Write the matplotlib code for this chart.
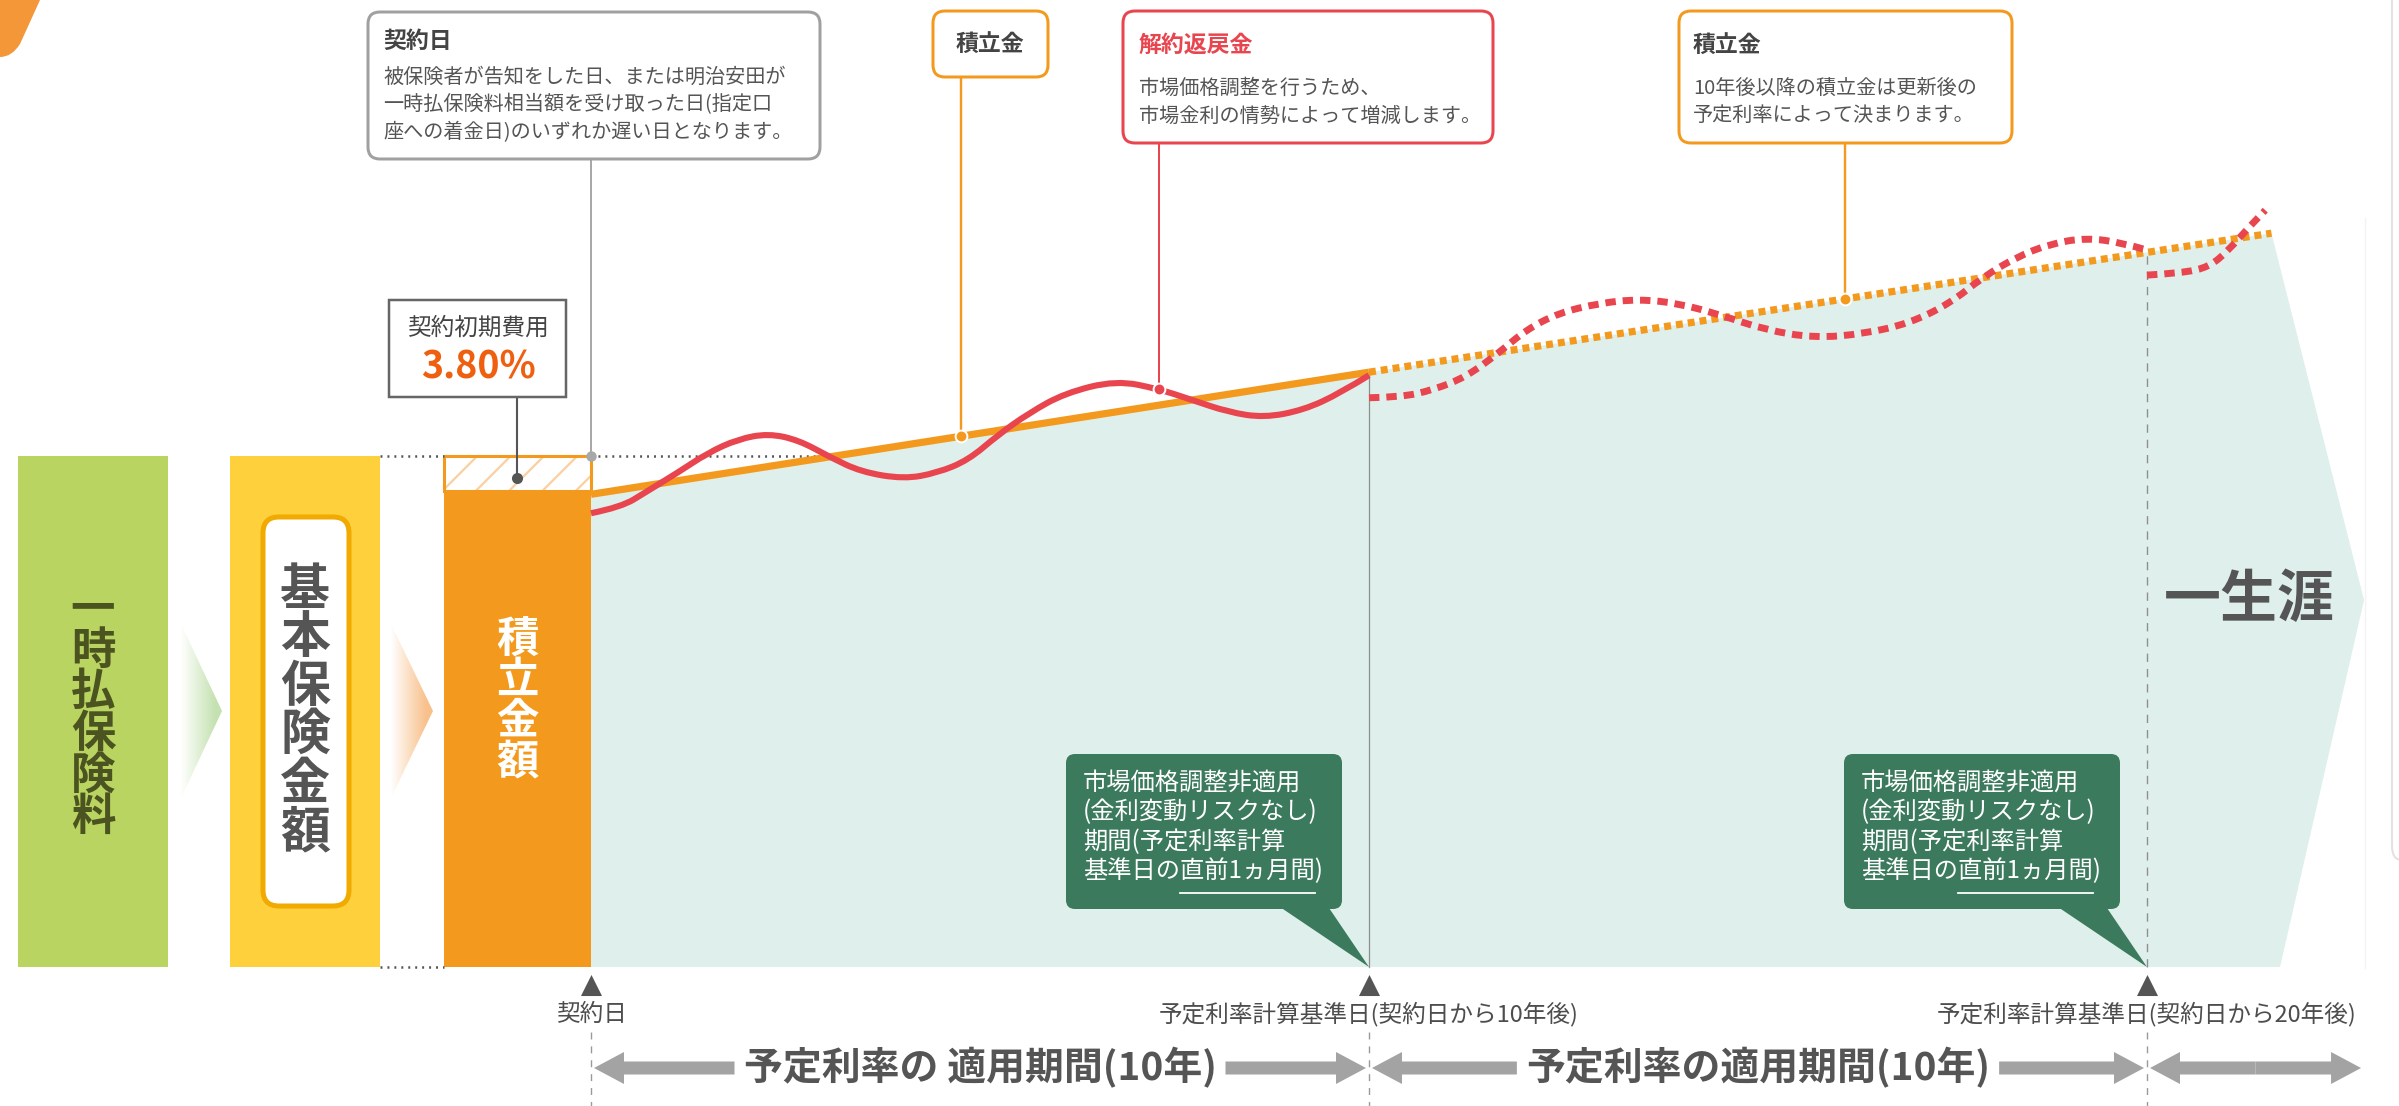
import numpy as np
import matplotlib
matplotlib.use("Agg")
import matplotlib.pyplot as plt
import matplotlib.transforms as mtransforms
from matplotlib.patches import FancyBboxPatch, Polygon, PathPatch
from matplotlib.path import Path
from matplotlib.colors import LinearSegmentedColormap
from matplotlib.font_manager import FontProperties

plt.rcParams['font.family'] = ['Noto Sans CJK JP', 'DejaVu Sans']
plt.rcParams['lines.scale_dashes'] = False
plt.rcParams['hatch.linewidth'] = 1.6

# ---- data: x = years from contract date, y = value (premium = 100)
bar_labels = ["一時払保険料", "基本保険金額", "積立金額"]
bar_values = [100, 100, 100]
initial_cost_pct = 3.80
reserve_after_cost = 93.2          # solid part of the reserve bar as drawn

reserve_years = [0, 10]
reserve_vals = [92.5, 116.4]
reserve_future_years = [10, 21.6]
reserve_future_vals = [116.4, 143.6]

surrender_years = [0.0, 0.39, 0.71, 1.11, 1.50, 1.89, 2.28, 2.67, 3.07, 3.47, 4.02, 4.45,
                   4.85, 5.23, 5.63, 6.09, 6.75, 7.30, 7.72, 8.19, 8.65, 9.16, 9.63, 10.0]
surrender_vals = [88.8, 90.0, 93.0, 96.7, 100.6, 103.3, 104.4, 103.1, 99.8, 96.9, 95.5, 96.7,
                  99.2, 104.1, 108.4, 112.3, 114.8, 113.1, 111.0, 108.6, 107.5, 109.0, 112.3, 115.8]

surrender2_years = [10.0, 10.40, 10.82, 11.25, 11.67, 12.02, 12.44, 12.96, 13.46, 13.97, 14.52,
                    15.09, 15.72, 16.36, 16.95, 17.47, 17.89, 18.32, 18.75, 19.22, 19.69, 20.0]
surrender2_vals = [111.4, 111.5, 112.9, 115.5, 120.2, 124.7, 128.0, 129.9, 130.7, 129.9, 127.6,
                   124.7, 123.1, 123.9, 126.0, 129.9, 135.0, 138.9, 141.5, 142.7, 141.7, 140.3]

surrender3_years = [20.0, 20.45, 20.80, 21.05, 21.31, 21.52]
surrender3_vals = [135.4, 135.8, 137.0, 140.3, 144.8, 148.1]

area_years = [0, 10, 21.6, 22.79, 21.71, 0]
area_vals = [92.5, 116.4, 143.6, 71.8, 0, 0]

milestone_years = [0, 10, 20]
milestone_labels = ["契約日", "予定利率計算基準日(契約日から10年後)",
                    "予定利率計算基準日(契約日から20年後)"]
period_labels = ["予定利率の 適用期間(10年)", "予定利率の適用期間(10年)", ""]

pin_reserve = (4.76, 103.9)
pin_surrender = (7.30, 113.1)
pin_reserve2 = (16.12, 130.7)
pin_contract = (0, 100)
pin_cost = 95.7

# ---- layout
W, H = 2399, 1106
X0_PX, PX_PER_YEAR = 591, 77.8
Y0_PX, PX_PER_UNIT = 967, 5.11
bar_x = [-6.401, -3.676, -0.945]
bar_w = [1.928, 1.928, 1.889]

ORANGE = "#f39a1e"
RED = "#e8454f"
TEAL = "#dff0ec"
GREEN_BOX = "#3b7a5c"
DARK = "#4a4a4a"
GRAY = "#a3a3a3"

fig = plt.figure(figsize=(W / 100, H / 100), dpi=100, facecolor="white")
ax = fig.add_axes([0, 0, 1, 1])
ax.set_xlim(-X0_PX / PX_PER_YEAR, (W - X0_PX) / PX_PER_YEAR)
ax.set_ylim((Y0_PX - H) / PX_PER_UNIT, Y0_PX / PX_PER_UNIT)
ax.set_autoscale_on(False)
ax.axis("off")

pxT = mtransforms.Affine2D().scale(1 / W, -1 / H).translate(0, 1) + fig.transFigure
blend = mtransforms.blended_transform_factory(ax.transData, pxT)
renderer = fig.canvas.get_renderer()
sc = W / fig.bbox.width


def to_px(x, y=0):
    d = ax.transData.transform((x, y))
    f = fig.transFigure.inverted().transform(d)
    return f[0] * W, (1 - f[1]) * H


def text_w(s, fs):
    w, _, _ = renderer.get_text_width_height_descent(s, FontProperties(size=fs), ismath=False)
    return w * sc


def box(x0, y0, x1, y1, ec, lw=3, r=12, fc="white", z=6):
    style = "round,pad=0,rounding_size=%g" % r if r else "square,pad=0"
    ax.add_patch(FancyBboxPatch((x0, y0), x1 - x0, y1 - y0, boxstyle=style, transform=pxT,
                                fc=fc, ec=ec, lw=lw * 0.72, zorder=z))


def txt(x, y, s, fs, color=DARK, ha="left", weight="normal", z=7, **kw):
    return ax.text(x, y, s, transform=pxT, fontsize=fs, color=color, ha=ha, va="center",
                   fontweight=weight, zorder=z, **kw)


def vtext(x, yc, s, step, fs, color):
    n = len(s)
    for i, ch in enumerate(s):
        txt(x, yc + (i - (n - 1) / 2) * step, ch, fs, color, ha="center", weight="bold")


def chevron(pts, color):
    poly = Polygon(pts, closed=True, transform=pxT, fc="none", ec="none")
    ax.add_patch(poly)
    xs = [p[0] for p in pts]
    ys = [p[1] for p in pts]
    cmap = LinearSegmentedColormap.from_list("c", [(0, "white"), (0.85, color), (1, color)])
    im = ax.imshow(np.linspace(0, 1, 256)[None, :], cmap=cmap, aspect="auto",
                   extent=(min(xs), max(xs), max(ys), min(ys)), transform=pxT, zorder=2)
    im.set_clip_path(poly)


def harrow(xs, xt, y, color=GRAY):
    d = 1 if xt > xs else -1
    hl, hh, st = 30, 16, 6.5
    xb = xt - d * hl
    pts = [(xs, y - st), (xb, y - st), (xb, y - hh), (xt, y), (xb, y + hh), (xb, y + st), (xs, y + st)]
    ax.add_patch(Polygon(pts, closed=True, transform=pxT, fc=color, ec="none", zorder=5))


def smooth_line(xs, ys, **kw):
    # quadratic Bezier path using the read points as control points
    p = np.column_stack([xs, ys])
    verts, codes = [p[0]], [Path.MOVETO]
    for i in range(1, len(p) - 1):
        end = p[-1] if i == len(p) - 2 else (p[i] + p[i + 1]) / 2
        verts += [p[i], end]
        codes += [Path.CURVE3, Path.CURVE3]
    ax.add_patch(PathPatch(Path(verts, codes), fill=False, **kw))


# ---- left bars
bar_colors = ["#b9d460", "#fdd03c", ORANGE]
ax.bar(bar_x[:2], bar_values[:2], width=bar_w[:2], color=bar_colors[:2], lw=0, zorder=2)
ax.bar(bar_x[2], reserve_after_cost, width=bar_w[2], color=ORANGE, lw=0, zorder=2)
ax.bar(bar_x[2], bar_values[2] - reserve_after_cost, bottom=reserve_after_cost, width=bar_w[2],
       color="white", edgecolor="#fbcfa0", hatch="/", lw=0, zorder=2)
ax.bar(bar_x[2], bar_values[2] - reserve_after_cost, bottom=reserve_after_cost, width=bar_w[2],
       fill=False, edgecolor=ORANGE, lw=2.2, zorder=3)

# dotted guides between yellow and orange bars
gx0 = bar_x[1] + bar_w[1] / 2
gx1 = bar_x[2] - bar_w[2] / 2
for v in (bar_values[1], 0):
    ax.plot([gx0, gx1], [v, v], color="#555555", lw=1.8, ls=(0, (1.4, 3.6)), zorder=3)
ax.plot([0, 3.08], [100, 100], color="#555555", lw=1.8, ls=(0, (1.4, 3.6)), zorder=3)

# white label box in yellow bar
ax.add_patch(FancyBboxPatch((263, 517), 86, 389, boxstyle="round,pad=0,rounding_size=16",
                            transform=pxT, fc="white", ec="#f0aa00", lw=5 * 0.72, zorder=3))

vtext(to_px(bar_x[0])[0], to_px(0, 49.7)[1], bar_labels[0], 41.5, 32, "#4b5320")
vtext(to_px(bar_x[1])[0], to_px(0, 50.0)[1], bar_labels[1], 48.5, 36, "#555555")
vtext(to_px(bar_x[2])[0], to_px(0, 52.0)[1], bar_labels[2], 41, 30.5, "white")

chevron([(181, 624), (222, 711), (181, 798)], "#c4e1b0")
chevron([(391, 624), (433, 711), (391, 798)], "#f8c08a")

# ---- chart area
ax.fill(area_years, area_vals, color=TEAL, lw=0, zorder=1)
ax.plot([10, 10], [0, reserve_vals[1]], color="#8f8f8f", lw=0.9, zorder=2)
ax.plot([20, 20], [0, 140.0], color="#8f8f8f", lw=1.0, ls=(0, (6, 5)), zorder=2)

ax.plot(reserve_years, reserve_vals, color=ORANGE, lw=5.2, solid_capstyle="butt", zorder=3)
ax.plot(reserve_future_years, reserve_future_vals, color=ORANGE, lw=5.2, ls=(0, (5, 3.6)), zorder=3)
smooth_line(surrender_years, surrender_vals, ec=RED, lw=4.4, capstyle="butt", zorder=4)
for xs, ys in ((surrender2_years, surrender2_vals), (surrender3_years, surrender3_vals)):
    smooth_line(xs, ys, ec=RED, lw=5.0, ls=(0, (7.5, 5.0)), capstyle="butt", zorder=4)

# ---- callouts
box(368, 12, 820, 159, "#a0a0a0")
txt(383, 41, "契約日", 16.5, "#444444", weight="bold")
body = "被保険者が告知をした日、または明治安田が\n一時払保険料相当額を受け取った日(指定口\n座への着金日)のいずれか遅い日となります。"
txt(383, 105, body, 14.5, "#555555", linespacing=1.42)

box(389, 300, 566, 397, "#666666", lw=2.5, r=0)
txt(478, 328, "契約初期費用", 17, "#444444", ha="center")
txt(478, 367, "%.2f%%" % initial_cost_pct, 27, "#ee6010", ha="center", weight="bold")

box(933, 11, 1048, 77, ORANGE)
txt(990, 44, "積立金", 16.5, "#444444", ha="center", weight="bold")

box(1123, 11, 1493, 143, RED)
txt(1139, 45, "解約返戻金", 16.5, RED, weight="bold")
txt(1139, 102, "市場価格調整を行うため、\n市場金利の情勢によって増減します。", 14.5, "#555555",
    linespacing=1.42)

box(1679, 11, 2012, 143, ORANGE)
txt(1693, 45, "積立金", 16.5, "#444444", weight="bold")
txt(1693, 102, "10年後以降の積立金は更新後の\n予定利率によって決まります。", 14.5, "#555555",
    linespacing=1.42)

# connectors and pins
conn = [(pin_contract, 159, "#a8a8a8", 2.0), (pin_reserve, 77, ORANGE, 2.4),
        (pin_surrender, 143, RED, 2.0), (pin_reserve2, 143, ORANGE, 2.4)]
for (px_, py_), ytop, c, lw in conn:
    x, y = to_px(px_, py_)
    ax.plot([x, x], [ytop, y], color=c, lw=lw * 0.72, transform=pxT, zorder=5)
ax.plot(*zip(pin_reserve, pin_reserve2), ls="none", marker="o", ms=8.5, mfc=ORANGE, mec="white",
        mew=1.4, zorder=6)
ax.plot(*pin_surrender, marker="o", ms=8.5, mfc=RED, mec="white", mew=1.4, zorder=6)
ax.plot(*pin_contract, marker="o", ms=7.5, mfc="#a8a8a8", mec="none", zorder=6)
cx, cy = to_px(bar_x[2], pin_cost)
ax.plot([cx, cx], [397, cy], color="#555555", lw=1.5, transform=pxT, zorder=5)
ax.plot(bar_x[2], pin_cost, marker="o", ms=8, mfc="#555555", mec="none", zorder=6)

# green notes at the rate-setting dates
note = ["市場価格調整非適用", "(金利変動リスクなし)", "期間(予定利率計算", "基準日の直前1ヵ月間)"]
for yr in milestone_years[1:]:
    tx, ty = to_px(yr, 0)
    ax.add_patch(Polygon([(tx - 92, 905), (tx - 42, 905), (tx, ty)], closed=True, transform=pxT,
                         fc=GREEN_BOX, ec="none", zorder=5))
    box(tx - 303, 754, tx - 27, 909, "none", lw=0, r=9, fc=GREEN_BOX, z=5)
    txt(tx - 286, 827, "\n".join(note), 17.5, "white", linespacing=1.17)
    u0 = tx - 286 + text_w("基準日の", 17.5)
    u1 = tx - 286 + text_w(note[3][:-1], 17.5)
    ax.plot([u0, u1], [893, 893], color="white", lw=1.3, transform=pxT, zorder=7)

txt(2249, 600, "一生涯", 41, "#555555", ha="center", weight="bold")

# ---- timeline
ax.scatter(milestone_years, [985] * 3, marker="^", s=230, color="#555555", lw=0,
           transform=blend, zorder=6)
for yr, lab in zip(milestone_years, milestone_labels):
    x = to_px(yr)[0]
    txt(x, 1014, lab, 17, "#4d4d4d", ha="center")
    ax.plot([x, x], [1032, 1106], color="#9a9a9a", lw=1.0, ls=(0, (5, 5)), transform=pxT, zorder=2)

ends = [to_px(v)[0] for v in milestone_years] + [to_px(area_years[3])[0]]
for k, lab in enumerate(period_labels):
    xl, xr = ends[k] + 3, ends[k + 1] - 3
    xm = (ends[k] + ends[k + 1]) / 2
    if lab:
        txt(xm, 1068, lab, 28, "#555555", ha="center", weight="bold")
        half = text_w(lab, 28) / 2
        harrow(xm - half - 12, xl, 1068)
        harrow(xm + half + 12, xr, 1068)
    else:
        harrow(xm, xl, 1068)
        harrow(xm, xr, 1068)

# ---- page decorations
corner = Path([(0, 0), (40, 0), (20, 44), (12, 57), (0, 57), (0, 0)],
              [Path.MOVETO, Path.LINETO, Path.LINETO, Path.CURVE3, Path.CURVE3, Path.CLOSEPOLY])
ax.add_patch(PathPatch(corner, transform=pxT, fc="#f39738", ec="none", zorder=8))
frame = Path([(2392, 0), (2392, 846), (2392, 860), (2402, 860)],
             [Path.MOVETO, Path.LINETO, Path.CURVE3, Path.CURVE3])
ax.add_patch(PathPatch(frame, transform=pxT, fc="none", ec="#e2e2e2", lw=1.5, zorder=8))
ax.plot([2365, 2365], [218, 968], color="#f3f3f3", lw=1, transform=pxT, zorder=0)

ax.set_xlim(-X0_PX / PX_PER_YEAR, (W - X0_PX) / PX_PER_YEAR)
ax.set_ylim((Y0_PX - H) / PX_PER_UNIT, Y0_PX / PX_PER_UNIT)
fig.savefig("out.png", dpi=100, facecolor="white")
